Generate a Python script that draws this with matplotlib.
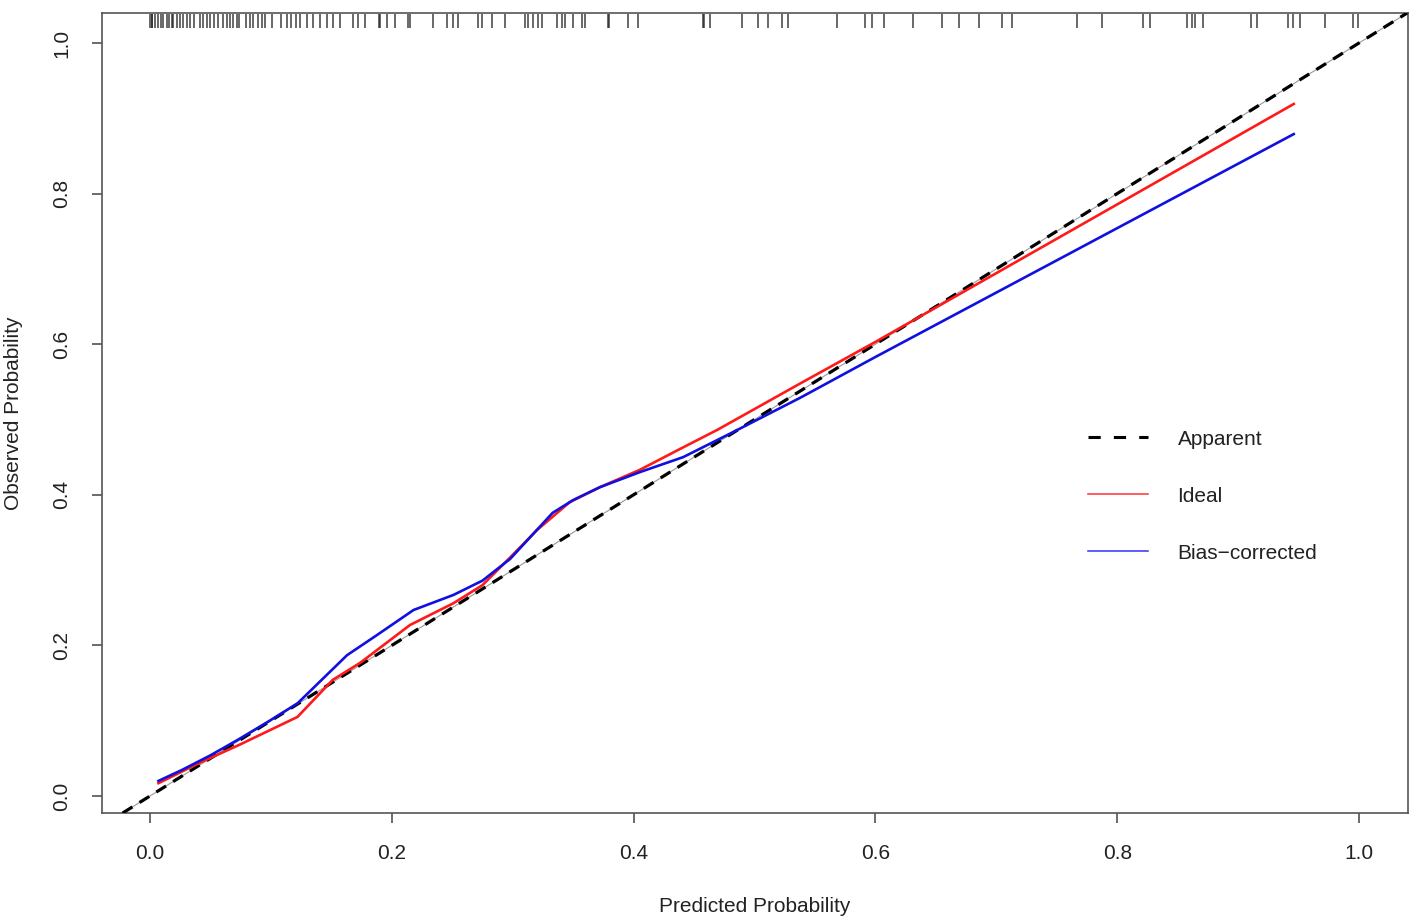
import matplotlib
matplotlib.use("Agg")
import matplotlib.pyplot as plt
from matplotlib.lines import Line2D

plt.rcParams['font.family'] = ['Liberation Sans', 'DejaVu Sans']

# Ideal (red) calibration curve
ideal_x = [0.007, 0.041, 0.074, 0.122, 0.151, 0.174, 0.215, 0.251, 0.275, 0.298,
           0.320, 0.347, 0.372, 0.405, 0.441, 0.469, 0.538, 0.600, 0.946]
ideal_y = [0.017, 0.044, 0.068, 0.105, 0.154, 0.177, 0.227, 0.256, 0.280, 0.317,
           0.353, 0.390, 0.410, 0.433, 0.463, 0.486, 0.548, 0.603, 0.919]

# Bias-corrected (blue) calibration curve
bias_x = [0.007, 0.027, 0.050, 0.072, 0.097, 0.122, 0.163, 0.188, 0.218, 0.251,
          0.275, 0.298, 0.333, 0.350, 0.372, 0.405, 0.441, 0.482, 0.538, 0.600, 0.946]
bias_y = [0.020, 0.035, 0.054, 0.074, 0.098, 0.123, 0.187, 0.214, 0.247, 0.267,
          0.286, 0.315, 0.376, 0.393, 0.410, 0.430, 0.450, 0.483, 0.529, 0.583, 0.879]

# Rug of predicted probabilities
rug_x = [0.000, 0.002, 0.002, 0.004, 0.007, 0.009, 0.011, 0.014, 0.016, 0.018, 0.019,
         0.022, 0.025, 0.027, 0.031, 0.033, 0.036, 0.041, 0.044, 0.047, 0.050, 0.053,
         0.056, 0.060, 0.064, 0.066, 0.069, 0.072, 0.074, 0.079, 0.083, 0.085, 0.089,
         0.093, 0.095, 0.101, 0.108, 0.113, 0.117, 0.121, 0.124, 0.130, 0.135, 0.141,
         0.146, 0.151, 0.157, 0.168, 0.172, 0.178, 0.189, 0.190, 0.196, 0.203, 0.213,
         0.215, 0.234, 0.246, 0.251, 0.255, 0.271, 0.275, 0.283, 0.294, 0.310, 0.313,
         0.317, 0.321, 0.324, 0.337, 0.341, 0.343, 0.350, 0.357, 0.360, 0.379, 0.380,
         0.395, 0.404, 0.457, 0.458, 0.463, 0.490, 0.503, 0.511, 0.523, 0.528, 0.568,
         0.591, 0.597, 0.607, 0.631, 0.655, 0.669, 0.686, 0.705, 0.713, 0.767, 0.787,
         0.821, 0.827, 0.858, 0.862, 0.864, 0.871, 0.911, 0.916, 0.941, 0.945, 0.951,
         0.972, 0.995, 0.999]

ticks = [0.0, 0.2, 0.4, 0.6, 0.8, 1.0]
tick_labels = ["0.0", "0.2", "0.4", "0.6", "0.8", "1.0"]
legend_labels = ["Apparent", "Ideal", "Bias\u2212corrected"]

fig = plt.figure(figsize=(14.17, 9.21), dpi=100)
ax = fig.add_axes([102/1417, 1 - 813/921, 1306/1417, 800/921])

ax.set_xlim(-0.0397, 1.0405)
ax.set_ylim(-0.0226, 1.0398)

# diagonal
ax.axline((0, 0), (1, 1), color='#999999', lw=0.8, zorder=2)
ax.axline((0, 0), (1, 1), color='black', lw=2.3, dashes=(3.6, 2.6), zorder=3)

ax.plot(ideal_x, ideal_y, color='#ff1a1a', lw=1.9, zorder=4)
ax.plot(bias_x, bias_y, color='#1010e0', lw=1.9, zorder=5)

ax.vlines(rug_x, 1.020, 1.038, color='#222222', lw=1.2, alpha=0.8)

ax.set_xticks(ticks)
ax.set_xticklabels(tick_labels)
ax.set_yticks(ticks)
ax.set_yticklabels(tick_labels, rotation=90, va='center')
ax.tick_params(axis='both', direction='out', length=7, width=1.1, color='#444444',
               labelsize=15, labelcolor='#222222')
ax.tick_params(axis='x', pad=15)
ax.tick_params(axis='y', pad=15)

for s in ax.spines.values():
    s.set_color('#555555')
    s.set_linewidth(1.2)

ax.set_xlabel("Predicted Probability", fontsize=15, color='#222222', labelpad=25)
ax.set_ylabel("Observed Probability", fontsize=15, color='#222222', labelpad=21)

handles = [
    Line2D([], [], color='black', lw=2.2, dashes=(4, 4.3)),
    Line2D([], [], color='#ff3030', lw=1.1),
    Line2D([], [], color='#3030ff', lw=1.1),
]
ax.legend(handles, legend_labels, loc='center left', bbox_to_anchor=(0.755, 0.396),
          frameon=False, fontsize=15, handlelength=2.9, handletextpad=1.4,
          labelspacing=1.82, borderpad=0, borderaxespad=0, labelcolor='#222222')

fig.savefig("out.png", dpi=100, facecolor='white')
